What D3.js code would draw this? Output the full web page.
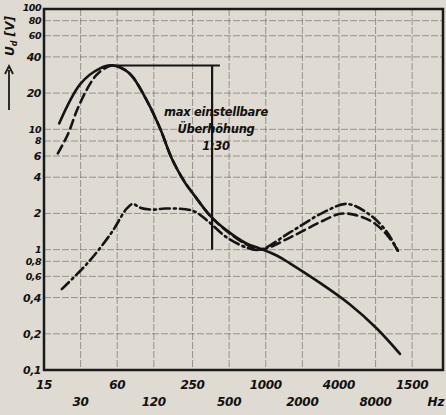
<!DOCTYPE html>
<html>
<head>
<meta charset="utf-8">
<script src="https://cdn.jsdelivr.net/npm/d3@7"></script>
<style>
  body { margin: 0; background: #dfdad2; }
  svg { display: block; }
  .lbl { font-family: "DejaVu Sans", sans-serif; font-weight: bold; font-style: italic; fill: #111; }
</style>
</head>
<body>
<div id="chart"></div>
<script>
// tick values and labels (as printed)
const xTicks = [15, 30, 60, 120, 250, 500, 1000, 2000, 4000, 8000, 16000];
const xTickLabels = ["15", "30", "60", "120", "250", "500", "1000", "2000", "4000", "8000", "1500"];
const yTicks = [0.1, 0.2, 0.4, 0.6, 0.8, 1, 2, 4, 6, 8, 10, 20, 40, 60, 80, 100];
const yTickLabels = ["0,1", "0,2", "0,4", "0,6", "0,8", "1", "2", "4", "6", "8", "10", "20", "40", "60", "80", "100"];

// solid curve
const solidFreq = [20, 30, 43, 55, 70, 81, 105, 135, 169, 217, 252, 348, 480, 700, 900, 1240, 1580, 2640, 4930, 8230, 12700];
const solidVal  = [11.2, 24, 32, 34, 31, 27, 17.4, 10.2, 5.7, 3.6, 2.93, 1.92, 1.44, 1.12, 1.02, 0.89, 0.77, 0.55, 0.35, 0.22, 0.136];

// dashed curve
const dashedFreq = [19.5, 23.7, 28, 36, 43, 55, 70, 81, 105, 135, 169, 217, 252, 348, 480, 700, 900, 1580, 2960, 4320, 7170, 9930, 12200];
const dashedVal  = [6.3, 9.2, 14.4, 24, 30, 34, 31, 27, 17.4, 10.2, 5.7, 3.6, 2.93, 1.92, 1.42, 1.1, 1.0, 1.26, 1.74, 2.0, 1.75, 1.33, 0.98];

// dash-dot curve
const dashDotFreq = [21, 34.5, 54, 72, 81, 92, 118, 149, 252, 329, 480, 700, 900, 1580, 2960, 4660, 7170, 9930, 12200];
const dashDotVal  = [0.47, 0.78, 1.39, 2.2, 2.4, 2.24, 2.15, 2.2, 2.1, 1.75, 1.26, 1.04, 1.0, 1.39, 2.03, 2.4, 1.95, 1.4, 0.98];

// max boost marker (1:30)
const boostFreq = [50, 420];
const boostTop = 34;
const boostBottom = 1.0;
const boostAt = 362;

const width = 446, height = 415;
const margin = { top: 9, right: 3, bottom: 45, left: 44 };

const svg = d3.select("#chart").append("svg")
  .attr("width", width)
  .attr("height", height);

svg.append("rect").attr("width", width).attr("height", height).attr("fill", "#dfdad2");

const x = d3.scaleLog()
  .domain([15, 28700])
  .range([margin.left, width - margin.right]);

const y = d3.scaleLog()
  .domain([0.1, 100])
  .range([height - margin.bottom, margin.top]);

// grid
const grid = svg.append("g")
  .attr("stroke", "#5f5a55")
  .attr("stroke-opacity", 0.55)
  .attr("stroke-width", 1)
  .attr("stroke-dasharray", "7,2");

grid.selectAll(".hg")
  .data(yTicks.slice(1, -1))
  .enter().append("line")
  .attr("x1", x(15)).attr("x2", x(28700))
  .attr("y1", d => y(d)).attr("y2", d => y(d));

grid.selectAll(".vg")
  .data(xTicks.slice(1))
  .enter().append("line")
  .attr("x1", d => x(d)).attr("x2", d => x(d))
  .attr("y1", y(100)).attr("y2", y(0.1));

// frame
svg.append("rect")
  .attr("x", x(15)).attr("y", y(100))
  .attr("width", x(28700) - x(15))
  .attr("height", y(0.1) - y(100))
  .attr("fill", "none")
  .attr("stroke", "#1a1a1a")
  .attr("stroke-width", 2.5);

// y labels (crowded ones a bit smaller)
const crowded = [100, 80, 60, 10, 8, 1, 0.8, 0.6];
svg.append("g").selectAll("text")
  .data(yTicks)
  .enter().append("text")
  .attr("class", "lbl")
  .attr("x", 41)
  .attr("y", d => y(d) + (d === 100 ? -1 : 0))
  .attr("dy", "0.36em")
  .attr("text-anchor", "end")
  .attr("font-size", d => crowded.includes(d) ? 9.5 : 11)
  .attr("letter-spacing", -0.5)
  .text((d, i) => yTickLabels[i]);

// x labels, two staggered rows
svg.append("g").selectAll("text")
  .data(xTicks)
  .enter().append("text")
  .attr("class", "lbl")
  .attr("x", d => x(d))
  .attr("y", (d, i) => i % 2 === 0 ? 389 : 406)
  .attr("text-anchor", "middle")
  .attr("font-size", 12)
  .attr("letter-spacing", -0.3)
  .text((d, i) => xTickLabels[i]);

svg.append("text")
  .attr("class", "lbl")
  .attr("x", 436).attr("y", 406)
  .attr("text-anchor", "middle")
  .attr("font-size", 12)
  .text("Hz");

// y axis title with arrow
const title = svg.append("text")
  .attr("class", "lbl")
  .attr("transform", "translate(14,36) rotate(-90)")
  .attr("text-anchor", "middle")
  .attr("font-size", 12);
title.append("tspan").text("U");
title.append("tspan").attr("font-size", 8).attr("dy", 3).text("d");
title.append("tspan").attr("dy", -3).text(" [V]");

svg.append("line")
  .attr("x1", 9).attr("x2", 9)
  .attr("y1", 110).attr("y2", 70)
  .attr("stroke", "#1a1a1a").attr("stroke-width", 1.8);
svg.append("path")
  .attr("d", "M5,74 L9,66 L13,74")
  .attr("fill", "none")
  .attr("stroke", "#1a1a1a").attr("stroke-width", 1.8);

// curves
const line = d3.line()
  .x(d => x(d[0]))
  .y(d => y(d[1]))
  .curve(d3.curveCatmullRom.alpha(0.5));

const curves = [
  { f: solidFreq, v: solidVal, dash: null },
  { f: dashedFreq, v: dashedVal, dash: "9,5" },
  { f: dashDotFreq, v: dashDotVal, dash: "10,4,2,4" }
];

svg.append("g").selectAll("path")
  .data(curves)
  .enter().append("path")
  .attr("d", c => line(c.f.map((f, i) => [f, c.v[i]])))
  .attr("fill", "none")
  .attr("stroke", "#151515")
  .attr("stroke-width", 2.6)
  .attr("stroke-linecap", "round")
  .attr("stroke-dasharray", c => c.dash);

// 1:30 marker
svg.append("line")
  .attr("x1", x(boostFreq[0])).attr("x2", x(boostFreq[1]))
  .attr("y1", y(boostTop)).attr("y2", y(boostTop))
  .attr("stroke", "#151515").attr("stroke-width", 2);
svg.append("line")
  .attr("x1", x(boostAt)).attr("x2", x(boostAt))
  .attr("y1", y(boostTop)).attr("y2", y(boostBottom))
  .attr("stroke", "#151515").attr("stroke-width", 2.2);

const note = svg.append("text")
  .attr("class", "lbl")
  .attr("text-anchor", "middle")
  .attr("font-size", 11.5)
  .attr("letter-spacing", -0.3);
["max einstellbare", "Überhöhung", "1:30"].forEach((t, i) => {
  note.append("tspan")
    .attr("x", 216)
    .attr("y", 116 + i * 17)
    .text(t);
});
</script>
</body>
</html>
